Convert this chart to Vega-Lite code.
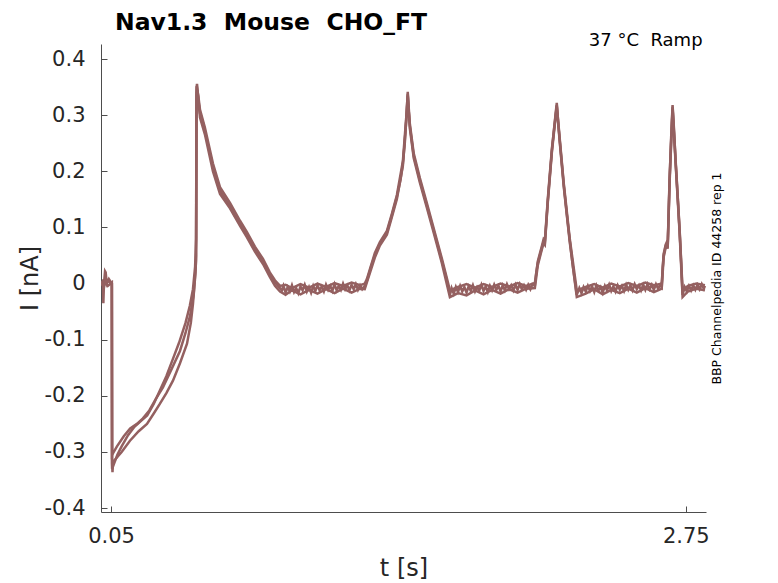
{
  "$schema": "https://vega.github.io/schema/vega-lite/v6.json",
  "width": 605,
  "height": 468,
  "autosize": "none",
  "padding": {"left": 101, "top": 44, "right": 72, "bottom": 71},
  "background": "white",
  "config": {
    "view": {"stroke": null},
    "font": "DejaVu Sans",
    "axis": {
      "grid": false,
      "domainColor": "#4d4d4d",
      "tickColor": "#4d4d4d",
      "labelColor": "#262626",
      "titleColor": "#262626",
      "labelFont": "DejaVu Sans",
      "titleFont": "DejaVu Sans",
      "titleFontWeight": "normal",
      "labelFontSize": 21,
      "titleFontSize": 24,
      "tickSize": -6
    }
  },
  "title": {
    "text": "Nav1.3\u00a0 Mouse\u00a0 CHO_FT",
    "anchor": "start",
    "frame": "group",
    "dx": 14,
    "offset": -2,
    "fontSize": 23.5,
    "fontWeight": "bold",
    "font": "DejaVu Sans",
    "color": "black"
  },
  "datasets": {
    "sweeps": [
      {"sweep": 1, "t": 0.003, "i": 0.0},
      {"sweep": 1, "t": 0.012, "i": 0.005},
      {"sweep": 1, "t": 0.014, "i": -0.035},
      {"sweep": 1, "t": 0.017, "i": 0.0},
      {"sweep": 1, "t": 0.022, "i": 0.022},
      {"sweep": 1, "t": 0.025, "i": 0.02},
      {"sweep": 1, "t": 0.03, "i": 0.0},
      {"sweep": 1, "t": 0.04, "i": 0.008},
      {"sweep": 1, "t": 0.054, "i": 0.0},
      {"sweep": 1, "t": 0.055, "i": -0.33},
      {"sweep": 1, "t": 0.06, "i": -0.325},
      {"sweep": 1, "t": 0.08, "i": -0.305},
      {"sweep": 1, "t": 0.1, "i": -0.29},
      {"sweep": 1, "t": 0.13, "i": -0.27},
      {"sweep": 1, "t": 0.16, "i": -0.255},
      {"sweep": 1, "t": 0.19, "i": -0.245},
      {"sweep": 1, "t": 0.22, "i": -0.235},
      {"sweep": 1, "t": 0.25, "i": -0.215},
      {"sweep": 1, "t": 0.28, "i": -0.19},
      {"sweep": 1, "t": 0.31, "i": -0.165},
      {"sweep": 1, "t": 0.34, "i": -0.135},
      {"sweep": 1, "t": 0.37, "i": -0.105},
      {"sweep": 1, "t": 0.4, "i": -0.07},
      {"sweep": 1, "t": 0.42, "i": -0.04},
      {"sweep": 1, "t": 0.435, "i": -0.01},
      {"sweep": 1, "t": 0.445, "i": 0.03},
      {"sweep": 1, "t": 0.45, "i": 0.08},
      {"sweep": 1, "t": 0.452, "i": 0.35},
      {"sweep": 1, "t": 0.454, "i": 0.356},
      {"sweep": 1, "t": 0.46, "i": 0.33},
      {"sweep": 1, "t": 0.468, "i": 0.303},
      {"sweep": 1, "t": 0.48, "i": 0.29},
      {"sweep": 1, "t": 0.491, "i": 0.272},
      {"sweep": 1, "t": 0.51, "i": 0.24},
      {"sweep": 1, "t": 0.529, "i": 0.207},
      {"sweep": 1, "t": 0.545, "i": 0.186},
      {"sweep": 1, "t": 0.562, "i": 0.166},
      {"sweep": 1, "t": 0.585, "i": 0.152},
      {"sweep": 1, "t": 0.609, "i": 0.138},
      {"sweep": 1, "t": 0.63, "i": 0.122},
      {"sweep": 1, "t": 0.656, "i": 0.107},
      {"sweep": 1, "t": 0.688, "i": 0.087},
      {"sweep": 1, "t": 0.71, "i": 0.072},
      {"sweep": 1, "t": 0.726, "i": 0.062},
      {"sweep": 1, "t": 0.745, "i": 0.05},
      {"sweep": 1, "t": 0.764, "i": 0.04},
      {"sweep": 1, "t": 0.78, "i": 0.028},
      {"sweep": 1, "t": 0.796, "i": 0.016},
      {"sweep": 1, "t": 0.82, "i": 0.002},
      {"sweep": 1, "t": 0.844, "i": -0.008},
      {"sweep": 1, "t": 0.853, "i": -0.012},
      {"sweep": 1, "t": 0.86, "i": -0.004},
      {"sweep": 1, "t": 0.87, "i": -0.016},
      {"sweep": 1, "t": 0.88, "i": -0.006},
      {"sweep": 1, "t": 0.89, "i": -0.014},
      {"sweep": 1, "t": 0.9, "i": -0.003},
      {"sweep": 1, "t": 0.91, "i": -0.015},
      {"sweep": 1, "t": 0.92, "i": -0.008},
      {"sweep": 1, "t": 0.93, "i": -0.017},
      {"sweep": 1, "t": 0.94, "i": -0.005},
      {"sweep": 1, "t": 0.95, "i": -0.012},
      {"sweep": 1, "t": 0.96, "i": -0.002},
      {"sweep": 1, "t": 0.97, "i": -0.014},
      {"sweep": 1, "t": 0.98, "i": -0.006},
      {"sweep": 1, "t": 0.99, "i": -0.016},
      {"sweep": 1, "t": 1.0, "i": -0.004},
      {"sweep": 1, "t": 1.01, "i": -0.013},
      {"sweep": 1, "t": 1.02, "i": -0.003},
      {"sweep": 1, "t": 1.03, "i": -0.012},
      {"sweep": 1, "t": 1.04, "i": -0.005},
      {"sweep": 1, "t": 1.05, "i": -0.014},
      {"sweep": 1, "t": 1.06, "i": -0.002},
      {"sweep": 1, "t": 1.07, "i": -0.011},
      {"sweep": 1, "t": 1.08, "i": -0.004},
      {"sweep": 1, "t": 1.09, "i": -0.013},
      {"sweep": 1, "t": 1.1, "i": -0.001},
      {"sweep": 1, "t": 1.11, "i": -0.012},
      {"sweep": 1, "t": 1.12, "i": -0.004},
      {"sweep": 1, "t": 1.13, "i": -0.011},
      {"sweep": 1, "t": 1.14, "i": 0.0},
      {"sweep": 1, "t": 1.15, "i": -0.01},
      {"sweep": 1, "t": 1.16, "i": -0.003},
      {"sweep": 1, "t": 1.17, "i": -0.012},
      {"sweep": 1, "t": 1.18, "i": -0.002},
      {"sweep": 1, "t": 1.19, "i": -0.01},
      {"sweep": 1, "t": 1.2, "i": -0.001},
      {"sweep": 1, "t": 1.21, "i": -0.011},
      {"sweep": 1, "t": 1.22, "i": -0.003},
      {"sweep": 1, "t": 1.23, "i": -0.01},
      {"sweep": 1, "t": 1.242, "i": -0.004},
      {"sweep": 1, "t": 1.252, "i": 0.005},
      {"sweep": 1, "t": 1.27, "i": 0.028},
      {"sweep": 1, "t": 1.289, "i": 0.05},
      {"sweep": 1, "t": 1.313, "i": 0.071},
      {"sweep": 1, "t": 1.33, "i": 0.08},
      {"sweep": 1, "t": 1.346, "i": 0.091},
      {"sweep": 1, "t": 1.369, "i": 0.121},
      {"sweep": 1, "t": 1.393, "i": 0.155},
      {"sweep": 1, "t": 1.41, "i": 0.185},
      {"sweep": 1, "t": 1.421, "i": 0.214},
      {"sweep": 1, "t": 1.43, "i": 0.25},
      {"sweep": 1, "t": 1.438, "i": 0.3},
      {"sweep": 1, "t": 1.444, "i": 0.342},
      {"sweep": 1, "t": 1.448, "i": 0.31},
      {"sweep": 1, "t": 1.454, "i": 0.28},
      {"sweep": 1, "t": 1.472, "i": 0.228},
      {"sweep": 1, "t": 1.501, "i": 0.184},
      {"sweep": 1, "t": 1.534, "i": 0.139},
      {"sweep": 1, "t": 1.562, "i": 0.1},
      {"sweep": 1, "t": 1.585, "i": 0.068},
      {"sweep": 1, "t": 1.604, "i": 0.041},
      {"sweep": 1, "t": 1.625, "i": 0.01},
      {"sweep": 1, "t": 1.642, "i": -0.02},
      {"sweep": 1, "t": 1.65, "i": -0.008},
      {"sweep": 1, "t": 1.66, "i": -0.018},
      {"sweep": 1, "t": 1.67, "i": -0.006},
      {"sweep": 1, "t": 1.68, "i": -0.015},
      {"sweep": 1, "t": 1.69, "i": -0.004},
      {"sweep": 1, "t": 1.7, "i": -0.014},
      {"sweep": 1, "t": 1.71, "i": -0.006},
      {"sweep": 1, "t": 1.72, "i": -0.016},
      {"sweep": 1, "t": 1.73, "i": -0.005},
      {"sweep": 1, "t": 1.74, "i": -0.013},
      {"sweep": 1, "t": 1.75, "i": -0.003},
      {"sweep": 1, "t": 1.76, "i": -0.014},
      {"sweep": 1, "t": 1.77, "i": -0.006},
      {"sweep": 1, "t": 1.78, "i": -0.012},
      {"sweep": 1, "t": 1.79, "i": -0.002},
      {"sweep": 1, "t": 1.8, "i": -0.013},
      {"sweep": 1, "t": 1.81, "i": -0.005},
      {"sweep": 1, "t": 1.82, "i": -0.015},
      {"sweep": 1, "t": 1.83, "i": -0.004},
      {"sweep": 1, "t": 1.84, "i": -0.012},
      {"sweep": 1, "t": 1.85, "i": -0.002},
      {"sweep": 1, "t": 1.86, "i": -0.011},
      {"sweep": 1, "t": 1.87, "i": -0.004},
      {"sweep": 1, "t": 1.88, "i": -0.014},
      {"sweep": 1, "t": 1.89, "i": -0.003},
      {"sweep": 1, "t": 1.9, "i": -0.012},
      {"sweep": 1, "t": 1.91, "i": -0.001},
      {"sweep": 1, "t": 1.92, "i": -0.01},
      {"sweep": 1, "t": 1.93, "i": -0.003},
      {"sweep": 1, "t": 1.94, "i": -0.012},
      {"sweep": 1, "t": 1.95, "i": -0.002},
      {"sweep": 1, "t": 1.96, "i": -0.011},
      {"sweep": 1, "t": 1.97, "i": -0.001},
      {"sweep": 1, "t": 1.98, "i": -0.01},
      {"sweep": 1, "t": 1.99, "i": -0.003},
      {"sweep": 1, "t": 2.0, "i": -0.011},
      {"sweep": 1, "t": 2.01, "i": -0.002},
      {"sweep": 1, "t": 2.02, "i": -0.01},
      {"sweep": 1, "t": 2.03, "i": -0.001},
      {"sweep": 1, "t": 2.041, "i": -0.004},
      {"sweep": 1, "t": 2.048, "i": 0.02},
      {"sweep": 1, "t": 2.055, "i": 0.037},
      {"sweep": 1, "t": 2.074, "i": 0.064},
      {"sweep": 1, "t": 2.082, "i": 0.075},
      {"sweep": 1, "t": 2.088, "i": 0.072},
      {"sweep": 1, "t": 2.095, "i": 0.11},
      {"sweep": 1, "t": 2.102, "i": 0.148},
      {"sweep": 1, "t": 2.121, "i": 0.237},
      {"sweep": 1, "t": 2.135, "i": 0.29},
      {"sweep": 1, "t": 2.144, "i": 0.322},
      {"sweep": 1, "t": 2.15, "i": 0.29},
      {"sweep": 1, "t": 2.158, "i": 0.255},
      {"sweep": 1, "t": 2.177, "i": 0.175},
      {"sweep": 1, "t": 2.19, "i": 0.128},
      {"sweep": 1, "t": 2.205, "i": 0.077},
      {"sweep": 1, "t": 2.22, "i": 0.03},
      {"sweep": 1, "t": 2.238, "i": -0.02},
      {"sweep": 1, "t": 2.25, "i": -0.008},
      {"sweep": 1, "t": 2.26, "i": -0.017},
      {"sweep": 1, "t": 2.27, "i": -0.006},
      {"sweep": 1, "t": 2.28, "i": -0.014},
      {"sweep": 1, "t": 2.29, "i": -0.004},
      {"sweep": 1, "t": 2.3, "i": -0.013},
      {"sweep": 1, "t": 2.31, "i": -0.005},
      {"sweep": 1, "t": 2.32, "i": -0.015},
      {"sweep": 1, "t": 2.33, "i": -0.003},
      {"sweep": 1, "t": 2.34, "i": -0.012},
      {"sweep": 1, "t": 2.35, "i": -0.006},
      {"sweep": 1, "t": 2.36, "i": -0.016},
      {"sweep": 1, "t": 2.37, "i": -0.004},
      {"sweep": 1, "t": 2.38, "i": -0.012},
      {"sweep": 1, "t": 2.39, "i": -0.002},
      {"sweep": 1, "t": 2.4, "i": -0.013},
      {"sweep": 1, "t": 2.41, "i": -0.005},
      {"sweep": 1, "t": 2.42, "i": -0.014},
      {"sweep": 1, "t": 2.43, "i": -0.003},
      {"sweep": 1, "t": 2.44, "i": -0.011},
      {"sweep": 1, "t": 2.45, "i": -0.004},
      {"sweep": 1, "t": 2.46, "i": -0.013},
      {"sweep": 1, "t": 2.47, "i": -0.002},
      {"sweep": 1, "t": 2.48, "i": -0.011},
      {"sweep": 1, "t": 2.49, "i": -0.003},
      {"sweep": 1, "t": 2.5, "i": -0.012},
      {"sweep": 1, "t": 2.51, "i": -0.001},
      {"sweep": 1, "t": 2.52, "i": -0.01},
      {"sweep": 1, "t": 2.53, "i": -0.003},
      {"sweep": 1, "t": 2.54, "i": -0.012},
      {"sweep": 1, "t": 2.55, "i": -0.002},
      {"sweep": 1, "t": 2.56, "i": -0.011},
      {"sweep": 1, "t": 2.57, "i": -0.001},
      {"sweep": 1, "t": 2.58, "i": -0.01},
      {"sweep": 1, "t": 2.59, "i": -0.002},
      {"sweep": 1, "t": 2.6, "i": -0.011},
      {"sweep": 1, "t": 2.61, "i": -0.001},
      {"sweep": 1, "t": 2.62, "i": -0.009},
      {"sweep": 1, "t": 2.63, "i": -0.002},
      {"sweep": 1, "t": 2.637, "i": -0.006},
      {"sweep": 1, "t": 2.642, "i": 0.03},
      {"sweep": 1, "t": 2.646, "i": 0.05},
      {"sweep": 1, "t": 2.656, "i": 0.068},
      {"sweep": 1, "t": 2.662, "i": 0.072},
      {"sweep": 1, "t": 2.665, "i": 0.065},
      {"sweep": 1, "t": 2.67, "i": 0.13},
      {"sweep": 1, "t": 2.674, "i": 0.184},
      {"sweep": 1, "t": 2.68, "i": 0.25},
      {"sweep": 1, "t": 2.688, "i": 0.318},
      {"sweep": 1, "t": 2.694, "i": 0.28},
      {"sweep": 1, "t": 2.702, "i": 0.219},
      {"sweep": 1, "t": 2.712, "i": 0.155},
      {"sweep": 1, "t": 2.721, "i": 0.094},
      {"sweep": 1, "t": 2.728, "i": 0.04},
      {"sweep": 1, "t": 2.735, "i": -0.02},
      {"sweep": 1, "t": 2.745, "i": -0.006},
      {"sweep": 1, "t": 2.755, "i": -0.014},
      {"sweep": 1, "t": 2.765, "i": -0.004},
      {"sweep": 1, "t": 2.775, "i": -0.012},
      {"sweep": 1, "t": 2.785, "i": -0.003},
      {"sweep": 1, "t": 2.795, "i": -0.011},
      {"sweep": 1, "t": 2.805, "i": -0.002},
      {"sweep": 1, "t": 2.815, "i": -0.01},
      {"sweep": 1, "t": 2.825, "i": -0.001},
      {"sweep": 1, "t": 2.835, "i": -0.009},
      {"sweep": 1, "t": 2.84, "i": -0.004},

      {"sweep": 2, "t": 0.003, "i": -0.002},
      {"sweep": 2, "t": 0.02, "i": 0.004},
      {"sweep": 2, "t": 0.035, "i": -0.004},
      {"sweep": 2, "t": 0.054, "i": 0.002},
      {"sweep": 2, "t": 0.055, "i": -0.305},
      {"sweep": 2, "t": 0.078, "i": -0.29},
      {"sweep": 2, "t": 0.11, "i": -0.272},
      {"sweep": 2, "t": 0.14, "i": -0.258},
      {"sweep": 2, "t": 0.172, "i": -0.25},
      {"sweep": 2, "t": 0.2, "i": -0.24},
      {"sweep": 2, "t": 0.23, "i": -0.226},
      {"sweep": 2, "t": 0.26, "i": -0.206},
      {"sweep": 2, "t": 0.294, "i": -0.185},
      {"sweep": 2, "t": 0.33, "i": -0.156},
      {"sweep": 2, "t": 0.374, "i": -0.12},
      {"sweep": 2, "t": 0.4, "i": -0.088},
      {"sweep": 2, "t": 0.421, "i": -0.058},
      {"sweep": 2, "t": 0.438, "i": -0.02},
      {"sweep": 2, "t": 0.448, "i": 0.03},
      {"sweep": 2, "t": 0.45, "i": 0.05},
      {"sweep": 2, "t": 0.451, "i": 0.34},
      {"sweep": 2, "t": 0.453, "i": 0.352},
      {"sweep": 2, "t": 0.46, "i": 0.335},
      {"sweep": 2, "t": 0.468, "i": 0.31},
      {"sweep": 2, "t": 0.491, "i": 0.278},
      {"sweep": 2, "t": 0.529, "i": 0.214},
      {"sweep": 2, "t": 0.562, "i": 0.172},
      {"sweep": 2, "t": 0.609, "i": 0.144},
      {"sweep": 2, "t": 0.656, "i": 0.112},
      {"sweep": 2, "t": 0.688, "i": 0.092},
      {"sweep": 2, "t": 0.726, "i": 0.066},
      {"sweep": 2, "t": 0.764, "i": 0.044},
      {"sweep": 2, "t": 0.796, "i": 0.02},
      {"sweep": 2, "t": 0.82, "i": 0.006},
      {"sweep": 2, "t": 0.844, "i": -0.004},
      {"sweep": 2, "t": 0.87, "i": -0.002},
      {"sweep": 2, "t": 0.9, "i": -0.008},
      {"sweep": 2, "t": 0.94, "i": -0.001},
      {"sweep": 2, "t": 0.98, "i": -0.007},
      {"sweep": 2, "t": 1.02, "i": 0.0},
      {"sweep": 2, "t": 1.06, "i": -0.006},
      {"sweep": 2, "t": 1.1, "i": 0.001},
      {"sweep": 2, "t": 1.14, "i": -0.004},
      {"sweep": 2, "t": 1.18, "i": 0.002},
      {"sweep": 2, "t": 1.22, "i": -0.003},
      {"sweep": 2, "t": 1.242, "i": 0.0},
      {"sweep": 2, "t": 1.252, "i": 0.008},
      {"sweep": 2, "t": 1.289, "i": 0.054},
      {"sweep": 2, "t": 1.313, "i": 0.074},
      {"sweep": 2, "t": 1.346, "i": 0.094},
      {"sweep": 2, "t": 1.369, "i": 0.124},
      {"sweep": 2, "t": 1.393, "i": 0.158},
      {"sweep": 2, "t": 1.421, "i": 0.218},
      {"sweep": 2, "t": 1.438, "i": 0.302},
      {"sweep": 2, "t": 1.444, "i": 0.338},
      {"sweep": 2, "t": 1.454, "i": 0.284},
      {"sweep": 2, "t": 1.472, "i": 0.232},
      {"sweep": 2, "t": 1.501, "i": 0.188},
      {"sweep": 2, "t": 1.534, "i": 0.143},
      {"sweep": 2, "t": 1.562, "i": 0.104},
      {"sweep": 2, "t": 1.604, "i": 0.045},
      {"sweep": 2, "t": 1.642, "i": -0.012},
      {"sweep": 2, "t": 1.68, "i": -0.006},
      {"sweep": 2, "t": 1.72, "i": -0.001},
      {"sweep": 2, "t": 1.76, "i": -0.007},
      {"sweep": 2, "t": 1.8, "i": -0.001},
      {"sweep": 2, "t": 1.84, "i": -0.006},
      {"sweep": 2, "t": 1.88, "i": 0.0},
      {"sweep": 2, "t": 1.92, "i": -0.005},
      {"sweep": 2, "t": 1.96, "i": 0.001},
      {"sweep": 2, "t": 2.0, "i": -0.004},
      {"sweep": 2, "t": 2.041, "i": 0.001},
      {"sweep": 2, "t": 2.055, "i": 0.04},
      {"sweep": 2, "t": 2.074, "i": 0.067},
      {"sweep": 2, "t": 2.082, "i": 0.079},
      {"sweep": 2, "t": 2.088, "i": 0.076},
      {"sweep": 2, "t": 2.102, "i": 0.152},
      {"sweep": 2, "t": 2.121, "i": 0.24},
      {"sweep": 2, "t": 2.144, "i": 0.318},
      {"sweep": 2, "t": 2.158, "i": 0.258},
      {"sweep": 2, "t": 2.177, "i": 0.178},
      {"sweep": 2, "t": 2.205, "i": 0.08},
      {"sweep": 2, "t": 2.238, "i": -0.012},
      {"sweep": 2, "t": 2.28, "i": -0.006},
      {"sweep": 2, "t": 2.32, "i": -0.001},
      {"sweep": 2, "t": 2.36, "i": -0.007},
      {"sweep": 2, "t": 2.4, "i": 0.0},
      {"sweep": 2, "t": 2.44, "i": -0.005},
      {"sweep": 2, "t": 2.48, "i": 0.001},
      {"sweep": 2, "t": 2.52, "i": -0.004},
      {"sweep": 2, "t": 2.56, "i": 0.002},
      {"sweep": 2, "t": 2.6, "i": -0.003},
      {"sweep": 2, "t": 2.637, "i": 0.0},
      {"sweep": 2, "t": 2.646, "i": 0.053},
      {"sweep": 2, "t": 2.656, "i": 0.07},
      {"sweep": 2, "t": 2.662, "i": 0.075},
      {"sweep": 2, "t": 2.665, "i": 0.068},
      {"sweep": 2, "t": 2.674, "i": 0.188},
      {"sweep": 2, "t": 2.688, "i": 0.315},
      {"sweep": 2, "t": 2.702, "i": 0.222},
      {"sweep": 2, "t": 2.721, "i": 0.097},
      {"sweep": 2, "t": 2.735, "i": -0.012},
      {"sweep": 2, "t": 2.76, "i": -0.004},
      {"sweep": 2, "t": 2.8, "i": 0.0},
      {"sweep": 2, "t": 2.84, "i": -0.003},

      {"sweep": 3, "t": 0.003, "i": 0.003},
      {"sweep": 3, "t": 0.015, "i": -0.006},
      {"sweep": 3, "t": 0.03, "i": 0.006},
      {"sweep": 3, "t": 0.054, "i": 0.0},
      {"sweep": 3, "t": 0.055, "i": -0.32},
      {"sweep": 3, "t": 0.057, "i": -0.336},
      {"sweep": 3, "t": 0.0594, "i": -0.318},
      {"sweep": 3, "t": 0.1, "i": -0.3},
      {"sweep": 3, "t": 0.139, "i": -0.28},
      {"sweep": 3, "t": 0.18, "i": -0.263},
      {"sweep": 3, "t": 0.219, "i": -0.25},
      {"sweep": 3, "t": 0.25, "i": -0.232},
      {"sweep": 3, "t": 0.28, "i": -0.214},
      {"sweep": 3, "t": 0.31, "i": -0.195},
      {"sweep": 3, "t": 0.341, "i": -0.173},
      {"sweep": 3, "t": 0.374, "i": -0.142},
      {"sweep": 3, "t": 0.407, "i": -0.107},
      {"sweep": 3, "t": 0.425, "i": -0.07},
      {"sweep": 3, "t": 0.435, "i": -0.036},
      {"sweep": 3, "t": 0.447, "i": 0.02},
      {"sweep": 3, "t": 0.449, "i": 0.041},
      {"sweep": 3, "t": 0.452, "i": 0.33},
      {"sweep": 3, "t": 0.456, "i": 0.345},
      {"sweep": 3, "t": 0.462, "i": 0.32},
      {"sweep": 3, "t": 0.468, "i": 0.296},
      {"sweep": 3, "t": 0.491, "i": 0.266},
      {"sweep": 3, "t": 0.529, "i": 0.2},
      {"sweep": 3, "t": 0.562, "i": 0.16},
      {"sweep": 3, "t": 0.609, "i": 0.134},
      {"sweep": 3, "t": 0.656, "i": 0.103},
      {"sweep": 3, "t": 0.688, "i": 0.083},
      {"sweep": 3, "t": 0.726, "i": 0.057},
      {"sweep": 3, "t": 0.764, "i": 0.035},
      {"sweep": 3, "t": 0.796, "i": 0.012},
      {"sweep": 3, "t": 0.82, "i": -0.004},
      {"sweep": 3, "t": 0.844, "i": -0.014},
      {"sweep": 3, "t": 0.87, "i": -0.02},
      {"sweep": 3, "t": 0.9, "i": -0.012},
      {"sweep": 3, "t": 0.94, "i": -0.019},
      {"sweep": 3, "t": 0.98, "i": -0.011},
      {"sweep": 3, "t": 1.02, "i": -0.018},
      {"sweep": 3, "t": 1.06, "i": -0.01},
      {"sweep": 3, "t": 1.1, "i": -0.017},
      {"sweep": 3, "t": 1.14, "i": -0.009},
      {"sweep": 3, "t": 1.18, "i": -0.016},
      {"sweep": 3, "t": 1.22, "i": -0.009},
      {"sweep": 3, "t": 1.242, "i": -0.01},
      {"sweep": 3, "t": 1.252, "i": 0.002},
      {"sweep": 3, "t": 1.289, "i": 0.046},
      {"sweep": 3, "t": 1.313, "i": 0.068},
      {"sweep": 3, "t": 1.346, "i": 0.087},
      {"sweep": 3, "t": 1.369, "i": 0.118},
      {"sweep": 3, "t": 1.393, "i": 0.151},
      {"sweep": 3, "t": 1.421, "i": 0.21},
      {"sweep": 3, "t": 1.438, "i": 0.295},
      {"sweep": 3, "t": 1.444, "i": 0.335},
      {"sweep": 3, "t": 1.454, "i": 0.276},
      {"sweep": 3, "t": 1.472, "i": 0.224},
      {"sweep": 3, "t": 1.501, "i": 0.18},
      {"sweep": 3, "t": 1.534, "i": 0.135},
      {"sweep": 3, "t": 1.562, "i": 0.096},
      {"sweep": 3, "t": 1.604, "i": 0.037},
      {"sweep": 3, "t": 1.642, "i": -0.024},
      {"sweep": 3, "t": 1.68, "i": -0.017},
      {"sweep": 3, "t": 1.72, "i": -0.021},
      {"sweep": 3, "t": 1.76, "i": -0.012},
      {"sweep": 3, "t": 1.8, "i": -0.019},
      {"sweep": 3, "t": 1.84, "i": -0.011},
      {"sweep": 3, "t": 1.88, "i": -0.018},
      {"sweep": 3, "t": 1.92, "i": -0.01},
      {"sweep": 3, "t": 1.96, "i": -0.016},
      {"sweep": 3, "t": 2.0, "i": -0.009},
      {"sweep": 3, "t": 2.041, "i": -0.008},
      {"sweep": 3, "t": 2.055, "i": 0.033},
      {"sweep": 3, "t": 2.074, "i": 0.061},
      {"sweep": 3, "t": 2.082, "i": 0.072},
      {"sweep": 3, "t": 2.088, "i": 0.069},
      {"sweep": 3, "t": 2.102, "i": 0.145},
      {"sweep": 3, "t": 2.121, "i": 0.234},
      {"sweep": 3, "t": 2.144, "i": 0.316},
      {"sweep": 3, "t": 2.158, "i": 0.252},
      {"sweep": 3, "t": 2.177, "i": 0.172},
      {"sweep": 3, "t": 2.205, "i": 0.074},
      {"sweep": 3, "t": 2.238, "i": -0.024},
      {"sweep": 3, "t": 2.28, "i": -0.018},
      {"sweep": 3, "t": 2.32, "i": -0.01},
      {"sweep": 3, "t": 2.36, "i": -0.019},
      {"sweep": 3, "t": 2.4, "i": -0.011},
      {"sweep": 3, "t": 2.44, "i": -0.017},
      {"sweep": 3, "t": 2.48, "i": -0.009},
      {"sweep": 3, "t": 2.52, "i": -0.016},
      {"sweep": 3, "t": 2.56, "i": -0.008},
      {"sweep": 3, "t": 2.6, "i": -0.015},
      {"sweep": 3, "t": 2.637, "i": -0.009},
      {"sweep": 3, "t": 2.646, "i": 0.047},
      {"sweep": 3, "t": 2.656, "i": 0.065},
      {"sweep": 3, "t": 2.662, "i": 0.069},
      {"sweep": 3, "t": 2.665, "i": 0.062},
      {"sweep": 3, "t": 2.674, "i": 0.18},
      {"sweep": 3, "t": 2.688, "i": 0.312},
      {"sweep": 3, "t": 2.702, "i": 0.216},
      {"sweep": 3, "t": 2.721, "i": 0.091},
      {"sweep": 3, "t": 2.735, "i": -0.024},
      {"sweep": 3, "t": 2.76, "i": -0.014},
      {"sweep": 3, "t": 2.8, "i": -0.009},
      {"sweep": 3, "t": 2.84, "i": -0.012}
    ],
    "labels": [
      {"t": 2.829, "i": 0.432, "text": "37 °C\u00a0 Ramp"}
    ]
  },
  "layer": [
    {
      "data": {"name": "sweeps"},
      "mark": {"type": "line", "color": "#946060", "strokeWidth": 2.5, "clip": true},
      "encoding": {
        "x": {
          "field": "t",
          "type": "quantitative",
          "scale": {"domain": [0.003, 2.845], "nice": false, "zero": false},
          "axis": {
            "values": [0.05, 2.75],
            "format": ".2f",
            "title": "t [s]",
            "labelPadding": 19,
            "titlePadding": 10
          }
        },
        "y": {
          "field": "i",
          "type": "quantitative",
          "scale": {"domain": [-0.407, 0.427], "nice": false, "zero": false},
          "axis": {
            "values": [-0.4, -0.3, -0.2, -0.1, 0, 0.1, 0.2, 0.3, 0.4],
            "labelExpr": "datum.value < 0 ? '-' + format(-datum.value, '.1~f') : format(datum.value, '.1~f')",
            "title": "I [nA]",
            "labelPadding": 22,
            "titlePadding": 2
          }
        },
        "detail": {"field": "sweep", "type": "nominal"}
      }
    },
    {
      "data": {"name": "labels"},
      "mark": {"type": "text", "align": "right", "baseline": "middle", "fontSize": 18, "color": "black", "font": "DejaVu Sans"},
      "encoding": {
        "x": {"field": "t", "type": "quantitative"},
        "y": {
          "field": "i",
          "type": "quantitative",
          "axis": {
            "orient": "right",
            "title": "BBP Channelpedia ID 44258 rep 1",
            "titleAngle": 270,
            "titleFontSize": 12.5,
            "titleColor": "black",
            "titlePadding": 17,
            "labels": false,
            "ticks": false,
            "domain": false
          }
        },
        "text": {"field": "text"}
      }
    }
  ],
  "resolve": {"axis": {"y": "independent"}}
}
